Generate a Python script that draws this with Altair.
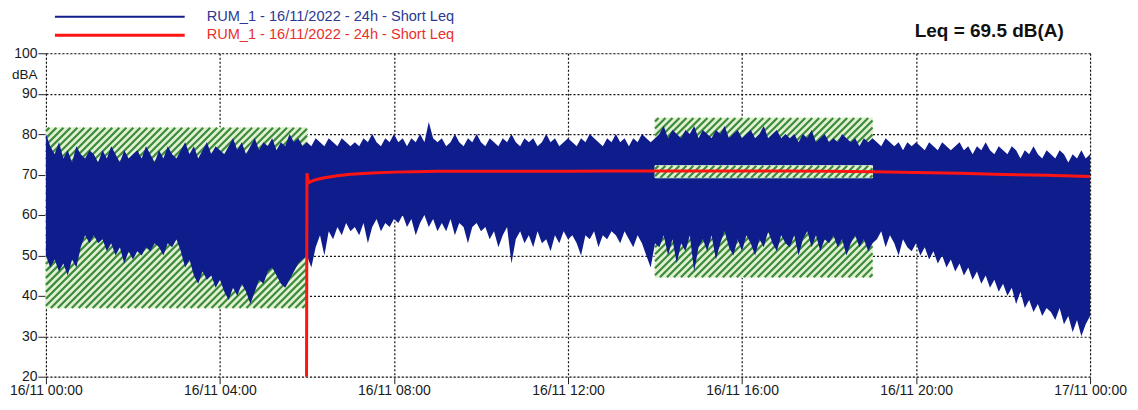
import altair as alt
import pandas as pd

# ---------------- data ----------------
T_STEP = 0.1  # hours between envelope samples
# lower / upper envelope of the Short Leq trace (dBA), 00:00 .. 24:00
LO = [50, 47, 49, 46, 48, 45, 49, 47, 52, 55, 53,
      55, 53, 54, 51, 53, 50, 52, 48, 51, 49,
      51, 50, 52, 51, 53, 52, 50, 53, 52, 54,
      51, 47, 49, 45, 43, 46, 44, 45, 42, 44,
      41, 39, 42, 40, 43, 41, 38, 41, 44, 43,
      46, 47, 45, 43, 42, 44, 46, 48, 49, 50,
      47, 52, 55, 50, 56, 54, 57, 55, 58, 56,
      57, 55, 58, 53, 57, 59, 56, 58, 57, 59,
      58, 60, 57, 59, 55, 58, 60, 57, 59, 56,
      58, 56, 59, 55, 58, 57, 53, 57, 58, 56,
      57, 54, 56, 52, 55, 57, 48, 54, 56, 53,
      55, 52, 56, 53, 54, 51, 55, 53, 56, 54,
      55, 53, 50, 55, 54, 56, 52, 55, 54, 56,
      55, 53, 56, 54, 52, 55, 53, 50, 47, 53,
      52, 55, 50, 54, 48, 53, 51, 55, 46, 52,
      54, 51, 55, 49, 53, 56, 52, 50, 54, 51,
      55, 53, 50, 54, 52, 56, 53, 51, 55, 53,
      52, 55, 50, 54, 56, 52, 55, 51, 54, 53,
      55, 52, 54, 50, 53, 55, 52, 54, 51, 53,
      54, 56, 52, 55, 53, 50, 54, 52, 51, 53,
      50, 52, 49, 51, 48, 50, 47, 49, 46, 48,
      45, 47, 44, 46, 43, 45, 42, 44, 41, 43,
      40, 42, 38, 41, 37, 39, 36, 38, 35, 37,
      36, 34, 37, 33, 35, 31, 34, 30, 33, 35]
HI = [80, 77, 75, 78, 74, 76, 73, 77, 75, 74, 76,
      75, 73, 76, 74, 77, 75, 73, 76, 74, 75,
      76, 74, 77, 75, 73, 76, 74, 77, 75, 74,
      76, 78, 75, 77, 74, 76, 78, 75, 77, 76,
      75, 77, 79, 76, 78, 75, 77, 79, 76, 78,
      77, 79, 76, 78, 77, 80, 78, 79, 77, 78,
      77, 79, 78, 77, 79, 78, 77, 79, 78, 77,
      78, 77, 79, 78, 80, 78, 77, 79, 78, 80,
      78, 79, 77, 79, 78, 80, 78, 83, 79, 78,
      79, 77, 78, 80, 78, 77, 79, 78, 80, 78,
      77, 79, 78, 77, 79, 78, 80, 78, 77, 79,
      78, 79, 77, 78, 80, 78, 79, 77, 78, 79,
      78, 77, 79, 78, 80, 79, 78, 77, 79, 78,
      80, 78, 79, 77, 79, 78, 80, 79, 78, 79,
      80, 82, 79, 81, 80, 79, 81, 80, 82, 79,
      81, 80, 79, 81, 80, 82, 79, 80, 81, 79,
      80, 81, 79, 80, 82, 79, 80, 81, 79, 80,
      79, 80, 78, 80, 79, 81, 78, 79, 80, 78,
      79, 78, 80, 79, 78, 79, 77, 79, 78, 79,
      78, 77, 79, 78, 77, 78, 76, 78, 77, 78,
      77, 76, 78, 77, 76, 78, 77, 76, 77, 78,
      76, 77, 75, 77, 76, 78, 76, 75, 77, 76,
      75, 77, 76, 74, 76, 75, 77, 75, 74, 76,
      75, 74, 76, 75, 73, 75, 74, 76, 74, 75]
T = [round(i * T_STEP, 1) for i in range(len(LO))]

# running Leq (red)
RED_T = [5.99, 6.0, 6.02, 6.05, 6.1, 6.2, 6.4, 6.7, 7.0, 7.5, 8.0, 8.5, 9.0,
         10, 11, 12, 13, 14, 15, 16, 17, 18, 19, 20, 21, 22, 23, 24]
RED_V = [20, 70.3, 69.0, 68.0, 68.3, 68.7, 69.2, 69.7, 70.1, 70.4, 70.6, 70.7, 70.8,
         70.8, 70.8, 70.8, 70.9, 70.9, 70.9, 70.9, 70.9, 70.8, 70.7, 70.5, 70.3, 70.0, 69.8, 69.5]

# hatched marker regions: (t0, t1, dB low, dB high)
RECTS_BACK = [(0, 6, 37.0, 81.6), (14, 19, 44.6, 84.0)]
RECTS_FRONT = [(14, 19, 69.2, 72.2)]

X_TICKS = [0, 4, 8, 12, 16, 20, 24]
X_LABELS = ["16/11 00:00", "16/11 04:00", "16/11 08:00", "16/11 12:00",
            "16/11 16:00", "16/11 20:00", "17/11 00:00"]
Y_TICKS = [20, 30, 40, 50, 60, 70, 80, 90, 100]
LEGEND_TEXT = "RUM_1 - 16/11/2022 - 24h - Short Leq"
TITLE_TEXT = "Leq = 69.5 dB(A)"

# ---------------- layout / style ----------------
W, H = 1046, 324
X_DOM, Y_DOM = (0, 24), (20, 100)
FONT = "Liberation Sans"
NAVY = "#0f1d8c"
RED = "#ff1414"
HATCH_BG = "#e2f1d3"
HATCH_FG = "#3b8b3b"
HATCH_STEP = 7.0  # px between stripes along x
GRID = "#111"
TOP = 45


def hatch_segments(rects):
    rows = []
    for (t0, t1, v0, v1) in rects:
        px0 = (t0 - X_DOM[0]) / (X_DOM[1] - X_DOM[0]) * W
        px1 = (t1 - X_DOM[0]) / (X_DOM[1] - X_DOM[0]) * W
        pyt = (Y_DOM[1] - v1) / (Y_DOM[1] - Y_DOM[0]) * H
        pyb = (Y_DOM[1] - v0) / (Y_DOM[1] - Y_DOM[0]) * H
        c = px0 + pyt + HATCH_STEP / 2
        while c < px1 + pyb:
            xa = max(px0, c - pyb)
            xb = min(px1, c - pyt)
            if xb > xa:
                ya, yb = c - xa, c - xb
                rows.append({
                    "x": xa / W * 24, "x2": xb / W * 24,
                    "y": Y_DOM[1] - ya / H * 80, "y2": Y_DOM[1] - yb / H * 80,
                })
            c += HATCH_STEP
    return pd.DataFrame(rows)


def rect_df(rects):
    return pd.DataFrame([{"x": a, "x2": b, "y": c, "y2": d} for (a, b, c, d) in rects])


xscale = alt.Scale(domain=list(X_DOM), nice=False, zero=False)
yscale = alt.Scale(domain=list(Y_DOM), nice=False, zero=False)
label_js = "[" + ",".join("'%s'" % s for s in X_LABELS) + "][round(datum.value/4)]"
xaxis = alt.Axis(values=X_TICKS, labelExpr=label_js, title=None, grid=True,
                 gridDash=[2, 2], gridColor=GRID, gridWidth=1.2, domain=False,
                 tickColor="#222", tickSize=7, labelPadding=0, labelFontSize=14,
                 labelColor="#1a1a1a", labelFont=FONT, labelFlush=False, labelOverlap=False)
yaxis = alt.Axis(values=Y_TICKS, title="dBA", titleAngle=0, titleX=-9, titleY=21,
                 titleAlign="right", titleBaseline="middle", titleFontWeight="normal",
                 titleFontSize=13.5, titleColor="#1a1a1a", titleFont=FONT, grid=True,
                 gridDash=[2, 2], gridColor=GRID, gridWidth=1.2, domain=False,
                 tickColor="#222", tickSize=8, labelPadding=1, labelFontSize=14,
                 labelColor="#1a1a1a", labelFont=FONT, labelOverlap=False)


def X(f):
    return alt.X(f, type="quantitative", scale=xscale, axis=xaxis)


def Y(f):
    return alt.Y(f, type="quantitative", scale=yscale, axis=yaxis)


def rect_layers(rects):
    bg = alt.Chart(rect_df(rects)).mark_rect(fill=HATCH_BG, stroke=HATCH_BG).encode(
        x=X("x"), x2="x2", y=Y("y"), y2="y2")
    hatch = alt.Chart(hatch_segments(rects)).mark_rule(
        color=HATCH_FG, strokeWidth=2.2).encode(x=X("x"), x2="x2", y=Y("y"), y2="y2")
    return [bg, hatch]


blue = alt.Chart(pd.DataFrame({"t": T, "lo": LO, "hi": HI})).mark_area(
    color=NAVY, opacity=1).encode(x=X("t"), y=Y("lo"), y2="hi")

red = alt.Chart(pd.DataFrame({"t": RED_T, "v": RED_V})).mark_line(
    color=RED, strokeWidth=3).encode(x=X("t"), y=Y("v"))

LEG_Y1, LEG_Y2 = 16.5, 35

one = pd.DataFrame({"k": [0]})
leg_blue_line = alt.Chart(one).mark_rule(color=NAVY, strokeWidth=2).encode(
    x=alt.value(9), x2=alt.value(139), y=alt.value(LEG_Y1 - 8 - TOP))
leg_red_line = alt.Chart(one).mark_rule(color=RED, strokeWidth=3).encode(
    x=alt.value(9), x2=alt.value(139), y=alt.value(LEG_Y2 - 8 - TOP))
leg_blue_txt = alt.Chart(one).mark_text(
    align="left", baseline="middle", fontSize=14.6, font=FONT, color="#2b3990").encode(
    x=alt.value(161), y=alt.value(LEG_Y1 - 8 - TOP), text=alt.value(LEGEND_TEXT))
leg_red_txt = alt.Chart(one).mark_text(
    align="left", baseline="middle", fontSize=14.6, font=FONT, color="#e8302c").encode(
    x=alt.value(161), y=alt.value(LEG_Y2 - 8 - TOP), text=alt.value(LEGEND_TEXT))
title = alt.Chart(one).mark_text(
    align="center", baseline="middle", fontSize=19, font=FONT, fontWeight="bold",
    color="#111").encode(x=alt.value(945), y=alt.value(31 - 8 - TOP), text=alt.value(TITLE_TEXT))

layers = rect_layers(RECTS_BACK) + [blue] + rect_layers(RECTS_FRONT) + [
    red, leg_blue_line, leg_red_line, leg_blue_txt, leg_red_txt, title]

chart = alt.layer(*layers).properties(
    width=W, height=H,
    padding={"left": 38, "top": TOP, "right": 40, "bottom": 20},
    autosize=alt.AutoSizeParams(type="none"),
    background="white",
).configure_view(stroke=None).configure(font=FONT)

chart.save("out.html", embed_options={"renderer": "svg", "actions": False})
